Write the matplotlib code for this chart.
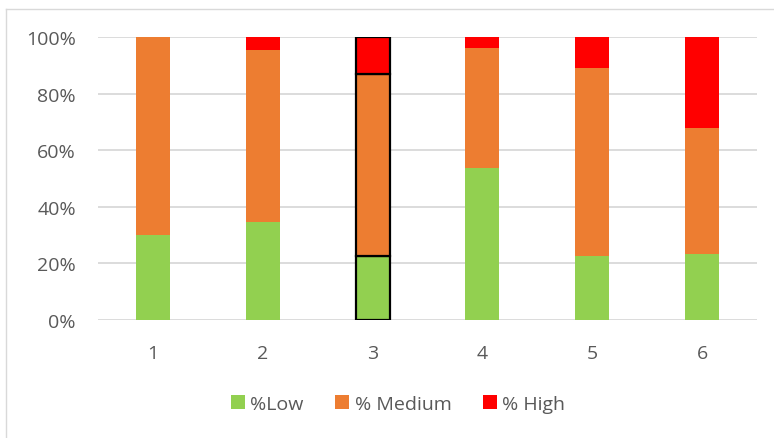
import matplotlib
matplotlib.use("Agg")
import matplotlib.pyplot as plt
from matplotlib.patches import Patch
from matplotlib.lines import Line2D
import numpy as np

categories = ["1", "2", "3", "4", "5", "6"]
low = [30.2, 34.7, 22.7, 53.8, 22.5, 23.3]
medium = [69.8, 60.9, 64.3, 42.4, 66.6, 44.6]
high = [0.0, 4.4, 13.0, 3.8, 10.9, 32.1]
series_names = ["%Low", "% Medium", "% High"]
colors = ["#92D050", "#ED7D31", "#FF0000"]
highlight_index = 2

plt.rcParams['font.family'] = ['Open Sans', 'DejaVu Sans']

W, H = 774, 439
fig = plt.figure(figsize=(W / 100, H / 100), dpi=100)
ax = fig.add_axes([98 / W, (H - 321) / H, (757 - 98) / W, (321 - 38.3) / H])

x = np.arange(len(categories))
bottoms = np.zeros(len(categories))
width = 0.31
for vals, c in zip([low, medium, high], colors):
    vals = np.array(vals)
    bars = ax.bar(x, vals, width, bottom=bottoms, color=c, zorder=3, linewidth=0)
    b = bars[highlight_index]
    b.set_edgecolor("black")
    b.set_linewidth(1.6)
    bottoms += vals

ax.set_xlim(-0.5, len(categories) - 0.5)
ax.set_ylim(0, 100)
ax.set_yticks([0, 20, 40, 60, 80, 100])
ax.set_yticklabels([f"{v}%" for v in [0, 20, 40, 60, 80, 100]])
ax.set_xticks(x)
ax.set_xticklabels(categories)
ax.yaxis.grid(True, color="#D9D9D9", linewidth=1.3, zorder=0)
ax.set_axisbelow(True)
for s in ax.spines.values():
    s.set_visible(False)
ax.tick_params(axis="both", length=0, labelsize=14, colors="#595959")
ax.tick_params(axis="y", pad=16)
ax.tick_params(axis="x", pad=17)

handles = [Patch(facecolor=c, edgecolor="none") for c in colors]
leg = fig.legend(handles, series_names, loc="center", bbox_to_anchor=(398 / W, (H - 405) / H),
                 ncol=3, frameon=False, fontsize=14, handlelength=0.72, handleheight=0.72,
                 handletextpad=0.3, columnspacing=1.6)
for t in leg.get_texts():
    t.set_color("#595959")

# chart area border (left and top visible)
fig.add_artist(Line2D([5.5 / W, 5.5 / W], [0, (H - 9.5) / H], transform=fig.transFigure,
                      color="#D9D9D9", linewidth=1.0))
fig.add_artist(Line2D([5.5 / W, 1], [(H - 9.5) / H, (H - 9.5) / H], transform=fig.transFigure,
                      color="#D9D9D9", linewidth=1.0))

fig.savefig("out.png", dpi=100)
